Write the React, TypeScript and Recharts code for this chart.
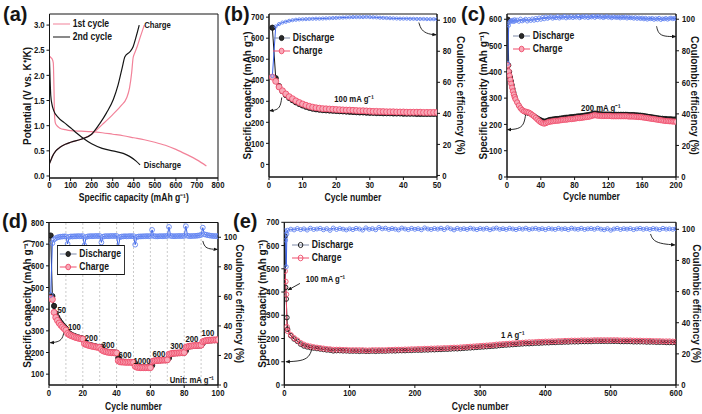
import React from 'react';
import {
  ComposedChart,
  Line,
  XAxis,
  YAxis,
  ReferenceArea,
  ReferenceLine,
  ReferenceDot,
  Legend,
} from 'recharts';

const FONT = "'Liberation Sans', Arial, sans-serif";
const INK = '#151515';
const PINK_LINE = '#f28299';
const RED = '#ef4f6d';
const RED_FILL = '#f8a9b8';
const BLUE = '#3b63e8';
const BLUE_MARK = '#6486f2';
const GREY_DASH = '#bdbdbd';

const seq = (from: number, to: number, step: number) => {
  const out: number[] = [];
  for (let v = from; v <= to; v += step) out.push(v);
  return out;
};

// ---------- (a) charge / discharge profiles
const A1_DIS_X = [0, 5, 12, 18, 21, 24, 28, 35, 50, 75, 100, 150, 200, 250, 300, 350, 400, 450, 500, 550, 600, 650, 700, 745];
const A1_DIS_Y = [2.38, 2.36, 2.33, 2.25, 1.8, 1.2, 1.05, 1.0, 0.95, 0.92, 0.9, 0.89, 0.88, 0.86, 0.83, 0.8, 0.76, 0.72, 0.67, 0.61, 0.53, 0.43, 0.32, 0.2];
const A1_CHG_X = [0, 5, 15, 30, 50, 75, 100, 150, 200, 250, 300, 340, 366, 380, 390, 397, 405, 416, 430, 450];
const A1_CHG_Y = [0.25, 0.3, 0.4, 0.5, 0.57, 0.63, 0.67, 0.73, 0.83, 1.02, 1.22, 1.4, 1.55, 1.75, 2.05, 2.35, 2.45, 2.57, 2.75, 3.0];
const A2_DIS_X = [0, 3, 6, 12, 20, 40, 70, 100, 130, 160, 200, 250, 300, 350, 380, 410, 430];
const A2_DIS_Y = [2.3, 1.9, 1.6, 1.42, 1.3, 1.17, 1.06, 0.96, 0.85, 0.75, 0.64, 0.55, 0.5, 0.45, 0.39, 0.3, 0.22];
const A2_CHG_X = [0, 5, 15, 30, 50, 75, 100, 150, 200, 240, 270, 303, 325, 345, 358, 382, 397, 410, 426];
const A2_CHG_Y = [0.25, 0.3, 0.4, 0.5, 0.57, 0.63, 0.67, 0.73, 0.83, 1.05, 1.25, 1.52, 1.8, 2.15, 2.37, 2.47, 2.57, 2.75, 3.0];
const A_XTICKS = [0, 100, 200, 300, 400, 500, 600, 700, 800];
const A_YTICKS = [0, 0.5, 1.0, 1.5, 2.0, 2.5, 3.0];

// ---------- (b) 100 mA/g, 50 cycles
const B_CYCLES = seq(1, 50, 1);
const B_DIS = [
  650, 410, 372, 348, 330, 316, 305, 295, 287, 280,
  274, 269, 265, 262, 260, 258, 257, 256, 255, 254,
  253, 252, 251, 250, 249, 248, 247, 247, 246, 245,
  245, 244, 244, 243, 243, 243, 242, 242, 242, 241,
  241, 241, 241, 240, 240, 240, 240, 240, 240, 240,
];
const B_CHG = [
  415, 395, 368, 350, 335, 322, 312, 302, 294, 287,
  281, 276, 272, 269, 267, 265, 264, 263, 262, 261,
  260, 259, 258, 258, 257, 256, 255, 255, 254, 253,
  252, 252, 251, 251, 250, 250, 250, 249, 249, 249,
  248, 248, 248, 248, 248, 247, 247, 247, 247, 247,
];
const B_CE = [
  64, 96, 97.5, 98.5, 99, 99.6, 100, 100.3, 100.5, 100.6,
  100.7, 100.8, 100.9, 101, 101, 101.1, 101.2, 101.3, 101.4, 101.5,
  101.6, 101.7, 101.8, 101.9, 102, 102, 102, 102, 102.1, 102,
  101.9, 101.8, 101.6, 101.5, 101.4, 101.3, 101.2, 101.1, 101, 101,
  101, 100.9, 100.9, 100.8, 100.8, 100.8, 100.7, 100.7, 100.7, 100.7,
];

// ---------- (c) 200 mA/g, 200 cycles
const C_CYCLES = [...seq(1, 10, 1), ...seq(12, 200, 2)];
const C_DIS = [
  600, 425, 400, 380, 365, 350, 335, 322, 310, 300,
  285, 272, 262, 255, 250, 246, 244, 242, 240, 236,
  232, 228, 224, 220, 217, 214, 212, 213, 215, 218,
  219, 220, 221, 222, 222, 223, 224, 225, 226, 227,
  227, 228, 229, 229, 230, 231, 232, 232, 233, 234,
  235, 236, 237, 238, 240, 242, 243, 242, 241, 240,
  240, 239, 239, 239, 239, 239, 238, 238, 238, 238,
  238, 238, 238, 238, 238, 238, 237, 237, 237, 237,
  236, 236, 235, 235, 234, 233, 232, 231, 230, 229,
  228, 227, 226, 225, 224, 223, 223, 222, 222, 221,
  221, 221, 220, 220, 220,
];
const C_CHG = [
  425, 402, 386, 370, 355, 340, 326, 314, 304, 296,
  284, 272, 262, 255, 250, 249, 247, 245, 241, 236,
  231, 225, 219, 213, 208, 205, 203, 205, 208, 210,
  211, 212, 213, 214, 214, 215, 216, 217, 218, 218,
  219, 220, 220, 221, 222, 223, 224, 224, 225, 226,
  227, 228, 229, 230, 232, 234, 235, 234, 233, 233,
  232, 232, 232, 232, 232, 232, 231, 231, 231, 231,
  231, 231, 231, 231, 231, 231, 230, 230, 230, 230,
  229, 229, 228, 228, 227, 226, 225, 224, 223, 222,
  221, 220, 219, 218, 217, 216, 215, 214, 213, 213,
  212, 212, 211, 211, 210,
];
const C_CE = [
  72, 96, 98, 98.8, 99.2, 98.6, 99.5, 98.4, 99.8, 98.9,
  99.6, 98.5, 100.2, 98.8, 99.4, 100.1, 98.7, 99.9, 99.1, 100.3,
  99.2, 100.6, 99.5, 100.9, 99.8, 101.2, 100.1, 101.5, 100.4, 101.0,
  101.6, 100.5, 101.3, 100.8, 101.8, 100.6, 101.4, 101.1, 101.9, 100.7,
  101.5, 101.0, 101.8, 100.9, 101.6, 101.2, 102.0, 100.8, 101.4, 101.7,
  101.1, 101.9, 100.9, 101.5, 101.3, 102.1, 101.0, 101.6, 101.8, 101.2,
  101.7, 100.9, 101.4, 101.8, 101.1, 101.5, 100.8, 101.6, 101.2, 101.0,
  101.4, 100.7, 101.3, 100.9, 101.5, 100.6, 101.2, 100.8, 101.0, 100.5,
  101.1, 100.4, 100.9, 100.3, 100.8, 100.1, 100.7, 99.9, 100.5, 100.2,
  100.6, 99.8, 100.4, 100.0, 100.7, 99.7, 100.3, 100.1, 100.6, 99.9,
  100.4, 100.8, 100.2, 100.6, 100.3,
];

// ---------- (d) rate capability
const D_CYCLES = seq(1, 100, 1);
const D_DIS = [
  740, 460, 415, 380, 362, 348, 337, 327, 318, 310,
  295, 288, 283, 279, 276, 273, 270, 268, 266, 264,
  250, 240, 237, 235, 233, 231, 229, 227, 226, 225,
  226, 212, 208, 205, 203, 202, 201, 200, 200, 199,
  175, 160, 158, 157, 157, 156, 156, 156, 155, 155,
  150, 136, 134, 133, 132, 132, 131, 131, 131, 131,
  140, 160, 162, 163, 164, 164, 165, 165, 165, 166,
  175, 193, 195, 196, 197, 197, 198, 198, 199, 199,
  208, 226, 228, 229, 230, 231, 232, 232, 233, 233,
  243, 252, 254, 255, 256, 256, 257, 257, 258, 258,
];
const D_CHG = [
  450, 445, 385, 362, 348, 336, 326, 318, 310, 303,
  288, 282, 278, 275, 272, 269, 267, 265, 263, 262,
  240, 237, 234, 232, 230, 228, 227, 225, 224, 223,
  214, 208, 205, 203, 201, 200, 199, 199, 198, 198,
  162, 157, 156, 156, 155, 155, 155, 155, 154, 154,
  136, 132, 131, 130, 130, 130, 130, 130, 130, 130,
  158, 161, 162, 163, 164, 164, 165, 165, 165, 166,
  192, 194, 196, 197, 197, 198, 198, 199, 199, 200,
  224, 227, 229, 230, 231, 232, 232, 233, 233, 234,
  250, 253, 255, 256, 257, 257, 258, 258, 258, 259,
];
const D_CE = [
  61, 96, 98.5, 99.4, 99.9, 100.2, 100.4, 100.5, 100.6, 100.6,
  95.5, 100.3, 100.6, 100.5, 100.7, 100.6, 100.8, 100.7, 100.7, 100.8,
  94.5, 100.2, 100.6, 100.7, 100.8, 100.7, 100.8, 100.9, 100.8, 100.9,
  96.5, 100.4, 100.7, 100.8, 100.7, 100.8, 100.9, 100.8, 100.9, 100.9,
  93, 100.1, 100.5, 100.6, 100.7, 100.6, 100.7, 100.8, 100.7, 100.8,
  95, 100.2, 100.5, 100.6, 100.6, 100.7, 100.7, 100.8, 100.7, 100.8,
  105, 100.8, 100.7, 100.6, 100.7, 100.8, 100.7, 100.8, 100.8, 100.9,
  107, 100.9, 100.8, 100.7, 100.8, 100.8, 100.9, 100.8, 100.9, 100.9,
  107.5, 101.0, 100.8, 100.8, 100.9, 100.9, 101.0, 101.1, 101.3, 101.6,
  106.5, 102.0, 101.7, 101.4, 101.2, 101.0, 100.9, 100.8, 100.8, 100.7,
];
const D_RATE_TEXT = ['50', '100', '200', '300', '600', '1000', '600', '300', '200', '100'];
const D_RATE_X = [7.5, 15, 25, 35, 45, 55, 65, 75.5, 84.5, 94];
const D_RATE_Y = [395, 320, 268, 237, 188, 160, 192, 230, 265, 292];
const D_DASHES = [10, 20, 30, 40, 50, 60, 70, 80, 90];

// ---------- (e) 1 A/g, 600 cycles
const E_CYCLES = [...seq(1, 4, 1), ...seq(5, 600, 5)];
const E_DIS = [
  640, 420, 370, 290,
  240, 212, 198, 188, 176, 168, 164, 161, 159, 157,
  155, 153, 151, 150, 147, 148, 148, 147, 147, 146,
  146, 146, 145, 146, 145, 145, 146, 145, 146, 146,
  146, 147, 147, 147, 148, 148, 148, 149, 149, 150,
  150, 150, 151, 151, 152, 152, 153, 153, 154, 154,
  155, 156, 156, 157, 158, 159, 160, 161, 162, 163,
  164, 165, 166, 167, 168, 170, 171, 172, 173, 174,
  175, 176, 177, 178, 178, 179, 180, 180, 181, 182,
  182, 183, 183, 184, 184, 185, 185, 186, 186, 186,
  187, 187, 187, 187, 188, 188, 188, 188, 188, 188,
  188, 188, 187, 187, 187, 187, 186, 186, 186, 186,
  185, 185, 185, 184, 184, 184, 183, 183, 183, 182,
];
const E_CHG = [
  490, 445, 390, 250,
  232, 215, 202, 192, 181, 174, 169, 166, 163, 161,
  159, 157, 155, 154, 152, 152, 152, 151, 151, 150,
  150, 150, 150, 150, 149, 149, 150, 150, 150, 150,
  150, 151, 151, 152, 152, 152, 153, 153, 154, 154,
  155, 155, 156, 156, 157, 157, 158, 158, 159, 159,
  160, 161, 161, 162, 163, 164, 165, 166, 167, 168,
  169, 170, 171, 172, 174, 175, 176, 177, 178, 179,
  180, 181, 182, 183, 184, 184, 185, 186, 186, 187,
  187, 188, 188, 189, 189, 190, 190, 191, 191, 191,
  192, 192, 192, 192, 193, 193, 193, 193, 193, 193,
  193, 193, 192, 192, 192, 192, 191, 191, 191, 190,
  190, 190, 189, 189, 189, 188, 188, 188, 187, 187,
];
const E_CE = [
  99, 93, 76, 97,
  99.4, 100.1, 99.6, 100.5, 99.8, 100.3, 99.5, 100.7, 99.9, 100.2,
  100.6, 99.7, 100.4, 99.3, 100.8, 99.9, 100.5, 100.1, 99.6, 100.3,
  99.8, 100.6, 100.2, 99.5, 100.9, 100.0, 100.4, 99.7, 101.2, 100.3,
  100.7, 99.9, 100.5, 100.1, 99.6, 100.8, 100.2, 99.8, 100.6, 100.0,
  100.4, 99.7, 100.9, 100.2, 99.9, 100.5, 100.1, 100.7, 99.8, 101.0,
  100.3, 99.6, 100.6, 100.0, 100.4, 99.9, 100.7, 100.2, 99.8, 100.5,
  100.1, 100.6, 99.7, 100.3, 100.8, 100.0, 100.4, 99.9, 100.6, 100.2,
  99.8, 100.5, 100.1, 100.7, 99.9, 100.3, 100.6, 100.0, 100.4, 99.8,
  100.5, 100.2, 99.9, 100.6, 100.1, 100.4, 99.8, 100.7, 100.2, 100.0,
  100.6, 99.9, 100.3, 100.5, 100.0, 100.7, 100.1, 99.7, 100.4, 99.4,
  100.2, 100.6, 99.9, 100.4, 100.1, 100.5, 99.8, 100.3, 100.6, 100.0,
  100.4, 99.9, 100.5, 100.2, 99.8, 100.6, 100.1, 100.3, 100.0, 100.4,
];

const CE_TICKS = [0, 20, 40, 60, 80, 100];

const TICK = { fontSize: 9, fontWeight: 700, fill: INK, fontFamily: FONT };
const TITLE = { fontSize: 10, fontWeight: 700, fill: INK, fontFamily: FONT };

// the source figure is squeezed horizontally; mimic it on upright text
const SQUEEZE_CSS = `
  .recharts-cartesian-axis-tick-value, .hx {
    transform-box: fill-box;
    transform-origin: center;
    transform: scaleX(0.86);
  }
`;

type AxisId = 'cap' | 'ce';
type Arrow = { axis: AxisId; xs: number[]; ys: number[]; curve?: 'basis' | 'linear' };
type Note = { axis: AxisId; x: number; y: number; text: string; size?: number };

function ArrowDefs() {
  return (
    <defs>
      <marker id="arrowHead" viewBox="0 0 10 10" refX="8" refY="5" markerWidth="5" markerHeight="5" orient="auto">
        <path d="M0,1 L10,5 L0,9 z" fill={INK} />
      </marker>
    </defs>
  );
}

type LegendItem = { label: string; line: string; r?: number; fill?: string; stroke?: string };

function LegendBox({ items, boxed }: { items: LegendItem[]; boxed?: boolean }) {
  return (
    <div
      style={{
        fontFamily: FONT,
        fontSize: 10,
        fontWeight: 700,
        color: INK,
        lineHeight: '13px',
        border: boxed ? `1px solid ${INK}` : 'none',
        background: boxed ? '#fff' : 'transparent',
        padding: boxed ? '1px 4px 1px 2px' : 0,
        transform: 'scaleX(0.86)',
        transformOrigin: 'left top',
      }}
    >
      {items.map((it) => (
        <div key={it.label} style={{ display: 'flex', alignItems: 'center', whiteSpace: 'nowrap' }}>
          <svg width={20} height={10} style={{ marginRight: 3 }}>
            <line x1={0} y1={5} x2={20} y2={5} stroke={it.line} strokeWidth={1.2} />
            {it.r ? <circle cx={10} cy={5} r={it.r} fill={it.fill} stroke={it.stroke} strokeWidth={1} /> : null}
          </svg>
          <span>{it.label}</span>
        </div>
      ))}
    </div>
  );
}

function PanelTag({ text, left, top }: { text: string; left: number; top: number }) {
  return (
    <div
      style={{
        position: 'absolute',
        left,
        top,
        fontFamily: FONT,
        fontWeight: 700,
        fontSize: 20,
        lineHeight: 1,
        color: INK,
      }}
    >
      {text}
    </div>
  );
}

function arrowLines(arrows: Arrow[]) {
  return arrows.map((a, i) => (
    <Line
      key={`arrow-${i}`}
      yAxisId={a.axis}
      data={a.xs.map((x, j) => ({ x, y: a.ys[j] }))}
      dataKey="y"
      type={a.curve ?? 'basis'}
      stroke={INK}
      strokeWidth={0.9}
      dot={false}
      activeDot={false}
      legendType="none"
      markerEnd="url(#arrowHead)"
      isAnimationActive={false}
    />
  ));
}

function noteDots(notes: Note[]) {
  return notes.map((n, i) => (
    <ReferenceDot
      key={`note-${i}`}
      yAxisId={n.axis}
      x={n.x}
      y={n.y}
      r={0}
      fill="none"
      stroke="none"
      label={{ value: n.text, position: 'center', className: 'hx', ...TICK, fontSize: n.size ?? 9 }}
    />
  ));
}

interface CyclePanelProps {
  left: number;
  top: number;
  width: number;
  height: number;
  margin: { top: number; right: number; bottom: number; left: number };
  cycles: number[];
  dis: number[];
  chg: number[];
  ce: number[];
  xDomain: [number, number];
  xTicks: number[];
  xHeight: number;
  capDomain: [number, number];
  capTicks: number[];
  capWidth: number;
  capTitleOffset: number;
  ceDomain: [number, number];
  ceWidth: number;
  ceTitleOffset: number;
  disDot: { r: number; fill: string; stroke: string };
  chgDot: { r: number; fill: string; stroke: string };
  ceR: number;
  legendPos: { left: number; top: number };
  legendBoxed?: boolean;
  arrows: Arrow[];
  notes: Note[];
  dashes?: number[];
}

function CyclePanel(p: CyclePanelProps) {
  const data = p.cycles.map((x, i) => ({ x, dis: p.dis[i], chg: p.chg[i], ce: p.ce[i] }));
  const legendItems: LegendItem[] = [
    { label: 'Discharge', line: '#7f8aa8', r: 2.6, fill: p.disDot.fill, stroke: p.disDot.stroke },
    { label: 'Charge', line: RED, r: 2.8, fill: p.chgDot.fill, stroke: p.chgDot.stroke },
  ];
  return (
    <div style={{ position: 'absolute', left: p.left, top: p.top }}>
      <ComposedChart width={p.width} height={p.height} data={data} margin={p.margin}>
        <ArrowDefs />
        <XAxis
          dataKey="x"
          type="number"
          domain={p.xDomain}
          ticks={p.xTicks}
          interval={0}
          allowDataOverflow
          height={p.xHeight}
          tick={TICK}
          tickSize={3}
          tickMargin={2}
          stroke={INK}
          label={{ value: 'Cycle number', position: 'insideBottom', offset: 0, className: 'hx', ...TITLE }}
        />
        <YAxis
          yAxisId="cap"
          type="number"
          domain={p.capDomain}
          ticks={p.capTicks}
          interval={0}
          allowDataOverflow
          width={p.capWidth}
          tick={TICK}
          tickSize={3}
          tickMargin={1}
          stroke={INK}
          label={{
            value: 'Specific capacity (mAh g⁻¹)',
            angle: -90,
            position: 'insideLeft',
            offset: p.capTitleOffset,
            style: { textAnchor: 'middle' },
            ...TITLE,
          }}
        />
        <YAxis
          yAxisId="ce"
          orientation="right"
          type="number"
          domain={p.ceDomain}
          ticks={CE_TICKS}
          interval={0}
          allowDataOverflow
          width={p.ceWidth}
          tick={TICK}
          tickSize={3}
          tickMargin={2}
          stroke={INK}
          label={{
            value: 'Coulombic efficiency (%)',
            angle: 90,
            position: 'insideRight',
            offset: p.ceTitleOffset,
            style: { textAnchor: 'middle' },
            ...TITLE,
          }}
        />
        <ReferenceArea
          yAxisId="cap"
          x1={p.xDomain[0]}
          x2={p.xDomain[1]}
          y1={p.capDomain[0]}
          y2={p.capDomain[1]}
          fill="none"
          stroke={INK}
          strokeWidth={1}
          ifOverflow="visible"
        />
        {(p.dashes ?? []).map((d) => (
          <ReferenceLine key={`dash-${d}`} yAxisId="cap" x={d} stroke={GREY_DASH} strokeDasharray="2 2" strokeWidth={0.8} />
        ))}
        <Line
          yAxisId="cap"
          dataKey="dis"
          type="linear"
          stroke={INK}
          strokeWidth={1}
          dot={{ r: p.disDot.r, fill: p.disDot.fill, stroke: p.disDot.stroke, strokeWidth: 0.9 }}
          activeDot={false}
          isAnimationActive={false}
        />
        <Line
          yAxisId="cap"
          dataKey="chg"
          type="linear"
          stroke={RED}
          strokeWidth={1}
          dot={{ r: p.chgDot.r, fill: p.chgDot.fill, stroke: p.chgDot.stroke, strokeWidth: 0.9 }}
          activeDot={false}
          isAnimationActive={false}
        />
        <Line
          yAxisId="ce"
          dataKey="ce"
          type="linear"
          stroke={BLUE}
          strokeWidth={1}
          dot={{ r: p.ceR, fill: 'none', stroke: BLUE_MARK, strokeWidth: 0.9 }}
          activeDot={false}
          isAnimationActive={false}
        />
        {arrowLines(p.arrows)}
        {noteDots(p.notes)}
        <Legend
          layout="vertical"
          align="center"
          verticalAlign="middle"
          wrapperStyle={{ left: p.legendPos.left, top: p.legendPos.top, width: 'auto' }}
          content={() => <LegendBox items={legendItems} boxed={p.legendBoxed} />}
        />
      </ComposedChart>
    </div>
  );
}

function PanelA() {
  const curves = [
    { xs: A1_DIS_X, ys: A1_DIS_Y, color: PINK_LINE },
    { xs: A1_CHG_X, ys: A1_CHG_Y, color: PINK_LINE },
    { xs: A2_DIS_X, ys: A2_DIS_Y, color: INK },
    { xs: A2_CHG_X, ys: A2_CHG_Y, color: INK },
  ];
  return (
    <div style={{ position: 'absolute', left: 0, top: 0 }}>
      <ComposedChart width={226} height={210} margin={{ top: 14, right: 8, bottom: 9, left: 19.5 }}>
        <XAxis
          dataKey="x"
          type="number"
          domain={[0, 800]}
          ticks={A_XTICKS}
          interval={0}
          allowDataOverflow
          height={23}
          tick={TICK}
          tickSize={3}
          tickMargin={1}
          stroke={INK}
          label={{ value: 'Specific capacity (mAh g⁻¹)', position: 'insideBottom', offset: 0, className: 'hx', ...TITLE }}
        />
        <YAxis
          type="number"
          domain={[-0.04, 3.22]}
          ticks={A_YTICKS}
          interval={0}
          allowDataOverflow
          width={30}
          tick={TICK}
          tickSize={3}
          tickMargin={1}
          tickFormatter={(v: number) => v.toFixed(1)}
          stroke={INK}
          label={{
            value: 'Potential (V vs. K⁺/K)',
            angle: -90,
            position: 'insideLeft',
            offset: 8,
            style: { textAnchor: 'middle' },
            ...TITLE,
          }}
        />
        <ReferenceArea x1={0} x2={800} y1={-0.04} y2={3.22} fill="none" stroke={INK} strokeWidth={1} ifOverflow="visible" />
        {curves.map((c, i) => (
          <Line
            key={`curve-${i}`}
            data={c.xs.map((x, j) => ({ x, y: c.ys[j] }))}
            dataKey="y"
            type="monotone"
            stroke={c.color}
            strokeWidth={1.2}
            dot={false}
            activeDot={false}
            isAnimationActive={false}
          />
        ))}
        <ReferenceDot x={513} y={3.0} r={0} fill="none" stroke="none" label={{ value: 'Charge', position: 'center', className: 'hx', ...TICK }} />
        <ReferenceDot x={536} y={0.22} r={0} fill="none" stroke="none" label={{ value: 'Discharge', position: 'center', className: 'hx', ...TICK }} />
        <Legend
          layout="vertical"
          align="center"
          verticalAlign="middle"
          wrapperStyle={{ left: 53, top: 17, width: 'auto' }}
          content={() => (
            <LegendBox
              items={[
                { label: '1st cycle', line: PINK_LINE },
                { label: '2nd cycle', line: INK },
              ]}
            />
          )}
        />
      </ComposedChart>
    </div>
  );
}

export default function App() {
  return (
    <div style={{ position: 'absolute', left: 0, top: 0, width: 702, height: 414, background: '#fff', overflow: 'hidden' }}>
      <style>{SQUEEZE_CSS}</style>
      <PanelA />
      <CyclePanel
        left={232}
        top={0}
        width={240}
        height={210}
        margin={{ top: 14, right: 7, bottom: 9, left: 7 }}
        cycles={B_CYCLES}
        dis={B_DIS}
        chg={B_CHG}
        ce={B_CE}
        xDomain={[0, 50]}
        xTicks={[0, 10, 20, 30, 40, 50]}
        xHeight={24}
        capDomain={[-60, 715]}
        capTicks={[0, 100, 200, 300, 400, 500, 600, 700]}
        capWidth={30}
        capTitleOffset={8}
        ceDomain={[-1, 104]}
        ceWidth={28}
        ceTitleOffset={4}
        disDot={{ r: 2.6, fill: '#2a2a2a', stroke: INK }}
        chgDot={{ r: 3, fill: RED_FILL, stroke: RED }}
        ceR={1.6}
        legendPos={{ left: 41, top: 31 }}
        arrows={[
          { axis: 'cap', xs: [3.8, 3.4, 2.2, 0.3], ys: [318, 275, 258, 255] },
          { axis: 'ce', xs: [44.6, 45.3, 47.4, 49.7], ys: [98.5, 93.5, 91, 90.6] },
        ]}
        notes={[{ axis: 'cap', x: 25.3, y: 310, text: '100 mA g⁻¹' }]}
      />
      <CyclePanel
        left={462}
        top={0}
        width={240}
        height={210}
        margin={{ top: 14, right: 0, bottom: 10, left: 17 }}
        cycles={C_CYCLES}
        dis={C_DIS}
        chg={C_CHG}
        ce={C_CE}
        xDomain={[0, 200]}
        xTicks={[0, 40, 80, 120, 160, 200]}
        xHeight={23}
        capDomain={[0, 620]}
        capTicks={[0, 100, 200, 300, 400, 500, 600]}
        capWidth={28}
        capTitleOffset={4}
        ceDomain={[0, 103.3]}
        ceWidth={26}
        ceTitleOffset={7}
        disDot={{ r: 2.2, fill: '#2a2a2a', stroke: INK }}
        chgDot={{ r: 2.6, fill: RED_FILL, stroke: RED }}
        ceR={1.8}
        legendPos={{ left: 51, top: 29 }}
        arrows={[
          { axis: 'cap', xs: [22, 20, 13, 0.8], ys: [236, 198, 182, 180] },
          { axis: 'ce', xs: [177, 179, 186, 199.5], ys: [95.5, 91, 89, 89] },
        ]}
        notes={[{ axis: 'cap', x: 111, y: 265, text: '200 mA g⁻¹' }]}
      />
      <CyclePanel
        left={0}
        top={205}
        width={250}
        height={209}
        margin={{ top: 17.5, right: 8, bottom: 4, left: 19 }}
        cycles={D_CYCLES}
        dis={D_DIS}
        chg={D_CHG}
        ce={D_CE}
        xDomain={[0, 100]}
        xTicks={[0, 20, 40, 60, 80, 100]}
        xHeight={25}
        capDomain={[50, 800]}
        capTicks={[100, 200, 300, 400, 500, 600, 700, 800]}
        capWidth={30}
        capTitleOffset={8}
        ceDomain={[0, 110]}
        ceWidth={24}
        ceTitleOffset={2.5}
        disDot={{ r: 2.6, fill: '#2a2a2a', stroke: INK }}
        chgDot={{ r: 3, fill: RED_FILL, stroke: RED }}
        ceR={2.4}
        legendPos={{ left: 57, top: 40 }}
        legendBoxed
        dashes={D_DASHES}
        arrows={[
          { axis: 'cap', xs: [9, 8, 5, 0.8], ys: [300, 262, 248, 245] },
          { axis: 'ce', xs: [91, 92, 95, 99.5], ys: [97.5, 93.5, 92, 91.8] },
        ]}
        notes={[
          ...D_RATE_TEXT.map((t, i) => ({ axis: 'cap' as AxisId, x: D_RATE_X[i], y: D_RATE_Y[i], text: t })),
          { axis: 'cap', x: 84.5, y: 75, text: 'Unit: mA g⁻¹' },
        ]}
      />
      <CyclePanel
        left={248}
        top={205}
        width={454}
        height={209}
        margin={{ top: 17.3, right: 0, bottom: 4, left: 6.3 }}
        cycles={E_CYCLES}
        dis={E_DIS}
        chg={E_CHG}
        ce={E_CE}
        xDomain={[0, 600]}
        xTicks={[0, 100, 200, 300, 400, 500, 600]}
        xHeight={25}
        capDomain={[0, 700]}
        capTicks={[0, 100, 200, 300, 400, 500, 600, 700]}
        capWidth={30}
        capTitleOffset={7.7}
        ceDomain={[0, 104.5]}
        ceWidth={26}
        ceTitleOffset={5}
        disDot={{ r: 2.3, fill: 'none', stroke: INK }}
        chgDot={{ r: 2.5, fill: 'none', stroke: RED }}
        ceR={2}
        legendPos={{ left: 43.7, top: 33 }}
        arrows={[
          { axis: 'cap', xs: [42, 38, 26, 3], ys: [152, 120, 103, 100] },
          { axis: 'ce', xs: [561, 565, 580, 598], ys: [97, 92.5, 90.5, 90] },
          { axis: 'cap', xs: [24, 6], ys: [437, 409], curve: 'linear' },
        ]}
        notes={[
          { axis: 'cap', x: 63, y: 455, text: '100 mA g⁻¹' },
          { axis: 'cap', x: 350, y: 215, text: '1 A g⁻¹' },
        ]}
      />
      <PanelTag text="(a)" left={3} top={4} />
      <PanelTag text="(b)" left={224} top={4} />
      <PanelTag text="(c)" left={461} top={4} />
      <PanelTag text="(d)" left={2} top={211} />
      <PanelTag text="(e)" left={233} top={211} />
    </div>
  );
}
